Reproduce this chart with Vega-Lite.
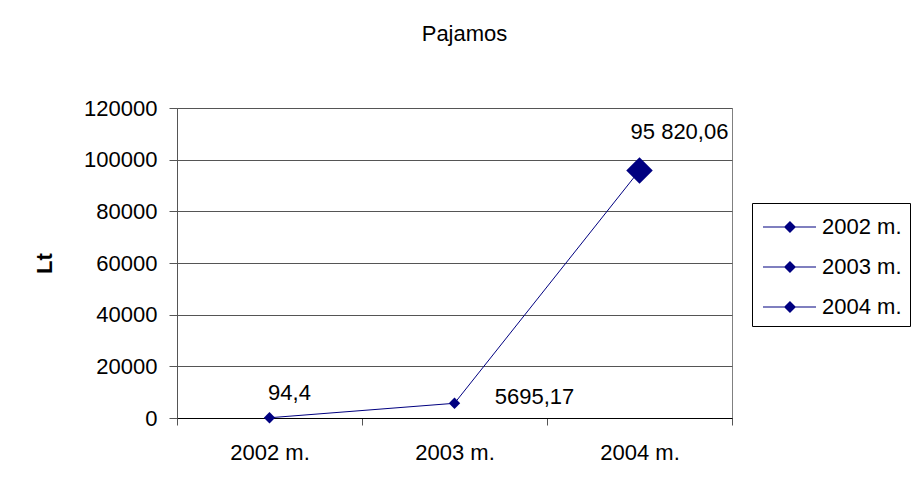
{
  "$schema": "https://vega.github.io/schema/vega-lite/v6.json",
  "width": 555,
  "height": 310,
  "autosize": {"type": "none"},
  "padding": {"left": 177, "top": 108, "right": 181, "bottom": 74},
  "background": "white",
  "title": {"text": "Pajamos", "font": "Liberation Sans", "fontSize": 22, "fontWeight": "normal", "color": "#000", "anchor": "middle", "frame": "group", "offset": 51, "dx": 10},
  "data": {"values": [
    {"year": "2002 m.", "value": 94.4, "label": "94,4"},
    {"year": "2003 m.", "value": 5695.17, "label": "5695,17"},
    {"year": "2004 m.", "value": 95820.06, "label": "95 820,06"}
  ]},
  "encoding": {
    "x": {"field": "year", "type": "nominal", "sort": null,
      "scale": {"type": "band", "paddingInner": 0, "paddingOuter": 0},
      "axis": {"title": null, "labelAngle": 0, "tickBand": "extent", "domainColor": "#000", "tickColor": "#555", "tickSize": 7, "labelPadding": 17, "labelFontSize": 22, "labelFont": "Liberation Sans", "labelColor": "#000", "grid": false}},
    "y": {"field": "value", "type": "quantitative",
      "scale": {"domain": [0, 120000], "nice": false},
      "axis": {"title": "Lt", "titleFontWeight": "bold", "titleFontSize": 22, "titleFont": "Liberation Sans", "titleColor": "#000", "titlePadding": 27,
        "values": [0, 20000, 40000, 60000, 80000, 100000, 120000], "format": "d",
        "grid": true, "gridColor": "#555", "gridOpacity": 1, "domainColor": "#555", "tickColor": "#555", "tickSize": 8, "labelPadding": 12,
        "labelFontSize": 22, "labelFont": "Liberation Sans", "labelColor": "#000"}}
  },
  "layer": [
    {"mark": {"type": "line", "color": "#000080", "strokeWidth": 1}},
    {"mark": {"type": "point", "shape": "diamond", "filled": true, "opacity": 1},
      "encoding": {
        "color": {"field": "year", "type": "nominal", "sort": null,
          "scale": {"range": ["#000080", "#000080", "#000080"]},
          "legend": {"orient": "none", "legendX": 575, "legendY": 95, "title": null, "padding": 8, "strokeColor": "#000",
            "labelFontSize": 22, "labelFont": "Liberation Sans", "labelColor": "#000", "labelOffset": 30, "rowPadding": 13,
            "symbolType": "M-0.867,-0.035H2.667V0.035H-0.867Z M0.533,0L0.933,-0.4L1.333,0L0.933,0.4Z", "symbolSize": 900,
            "encode": {
              "legend": {"update": {"strokeWidth": {"value": 2}}},
              "symbols": {"update": {
                "shape": {"signal": "datum.value === '2004 m.' ? 'M-0.867,-0.035H2.667V0.035H-0.867Z M0.433,0L0.933,-0.5L1.433,0L0.933,0.5Z' : 'M-0.867,-0.035H2.667V0.035H-0.867Z M0.533,0L0.933,-0.4L1.333,0L0.933,0.4Z'"},
                "size": {"value": 900}, "fill": {"value": "#000080"}, "opacity": {"value": 1}}}}}},
        "size": {"condition": {"test": "datum.year === '2004 m.'", "value": 700}, "value": 130}
      }},
    {"transform": [{"filter": "datum.year === '2002 m.'"}],
      "mark": {"type": "text", "font": "Liberation Sans", "fontSize": 22, "color": "#000", "dx": 20, "dy": -25},
      "encoding": {"text": {"field": "label"}}},
    {"transform": [{"filter": "datum.year === '2003 m.'"}],
      "mark": {"type": "text", "font": "Liberation Sans", "fontSize": 22, "color": "#000", "dx": 80, "dy": -6},
      "encoding": {"text": {"field": "label"}}},
    {"transform": [{"filter": "datum.year === '2004 m.'"}],
      "mark": {"type": "text", "font": "Liberation Sans", "fontSize": 22, "color": "#000", "dx": 40, "dy": -38},
      "encoding": {"text": {"field": "label"}}}
  ],
  "config": {
    "view": {"stroke": "#808080", "strokeWidth": 1},
    "axis": {"domainWidth": 1, "tickWidth": 1, "gridWidth": 1}
  }
}
